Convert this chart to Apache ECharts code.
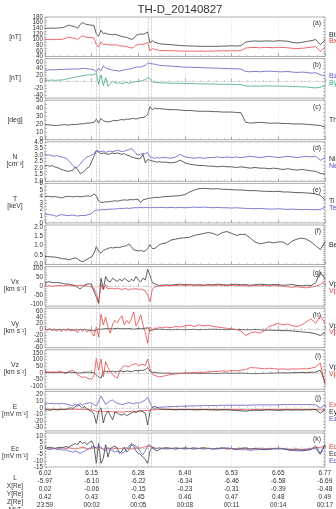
<!DOCTYPE html>
<html><head><meta charset="utf-8">
<script src="https://cdn.jsdelivr.net/npm/echarts@6/dist/echarts.min.js"></script>
<style>html,body{margin:0;padding:0;background:#fff}#c{width:336px;height:509px}</style>
</head><body><div id="c"></div>
<script>
// ---------- data ----------
const title = 'TH-D_20140827';
const xs = [0,0.05,0.1,0.15,0.2,0.25,0.3,0.35,0.4,0.45,0.5,0.55,0.6,0.65,0.7,0.75,0.8,0.85,0.9,0.95,1,1.05,1.1,1.15,1.2,1.25,1.3,1.35,1.4,1.45,1.5,1.55,1.6,1.65,1.7,1.75,1.8,1.85,1.9,1.95,2,2.05,2.1,2.15,2.2,2.25,2.3,2.35,2.4,2.45,2.5,
  2.6,2.7,2.8,2.9,3,3.1,3.2,3.3,3.4,3.5,3.6,3.7,3.8,3.9,4,4.1,4.2,4.3,4.4,4.5,4.6,4.7,4.8,4.9,5,5.1,5.2,5.3,5.4,5.5,5.6,5.7,5.8,5.9,6];
const eventTimes = [1.10, 1.17, 2.21, 2.27];

const Bt = [140,140,140,141,140,141,141,142,143,147,151,149,147,145,140,153,160,156,153,152,151,149,120,112,133,121,123,119,118,117,119,116,113,111,109,108,104,101,103,115,118,120,119,122,127,88,96,91,88,86,84,
  83,82,80,79,78,77,77,76,76,76,76,76,77,77,78,77,78,91,94,95,94,95,95,94,96,95,94,90,88,90,93,96,100,82,99];
const Bx = [100,100,100,100,100,101,100,101,102,105,109,107,105,104,100,108,113,110,108,107,107,105,82,73,92,82,84,82,81,80,82,80,78,77,76,75,72,70,72,80,82,84,83,86,90,60,68,65,63,62,61,
  61,60,60,59,59,59,59,59,59,59,59,60,60,60,60,60,61,70,72,72,71,72,72,71,73,72,71,69,68,69,71,73,75,58,73];
const Bz = [35,35,36,36,36,36,37,37,37,38,38,38,38,39,38,39,40,40,39,38,38,36,30,40,33,48,42,39,37,35,34,33,32,34,36,37,38,40,42,44,45,44,47,50,57,55,54,53,51,50,49,
  48,47,46,45,44,44,43,43,42,42,41,41,40,40,39,39,38,31,30,31,30,31,32,31,30,30,31,29,28,29,28,26,27,21,18];
const By = [5,4,4,5,4,4,5,5,6,8,9,11,13,14,15,16,18,19,20,21,20,22,26,-8,20,-12,12,-14,-6,1,-3,-5,-3,-6,-4,-2,-5,-3,-1,1,0,2,4,6,12,10,0,-2,-3,-3,-4,
  -4,-5,-5,-5,-6,-6,-6,-7,-7,-7,-7,-8,-8,-8,-8,-9,-9,-13,-14,-13,-14,-13,-13,-14,-13,-14,-14,-15,-15,-16,-16,-18,-19,-17,-12];
const Theta = [19,19,18.5,18.5,18,18,18.5,18.5,19,19,18.5,19,19.5,19,19.5,20,20,20.5,21,21,21.5,22,26,21,27,24,23,22.5,23,24,24.5,24,25,25.5,25,26,26,26.5,27,26,27,28,28,29,32,42,38,40,39,39.5,39,
  38.5,38,38,37.5,37,37,36.5,36,36,36,35.5,35.5,35,35,35,34.5,34,22,21,21.5,22,21.5,21,21,21,20.5,20.5,20,20,20,19.5,19,18.5,18,16];
const Ni = [2.15,2.2,2.15,2.2,2.1,2.05,2.0,1.9,1.85,1.8,1.75,1.8,1.85,2.1,1.9,1.6,1.65,1.8,2.0,2.1,2.5,2.9,3.3,3.2,3.1,3.15,3.1,3.05,3.1,3.15,3.1,3.15,3.1,3.05,3.1,3.0,2.95,2.85,2.8,2.75,2.7,2.75,3.05,2.4,2.65,2.6,2.55,2.5,2.45,2.5,2.45,
  2.45,2.4,2.45,2.6,2.4,2.3,2.25,2.2,2.2,2.15,2.15,2.1,2.15,2.1,2.1,2.05,2.1,2.05,2.0,2.05,2.0,2.0,1.95,2.0,1.95,1.9,1.95,1.9,1.85,1.9,1.85,1.8,1.75,1.6,1.55];
const Ne = [3.05,3.0,3.0,2.95,2.9,2.95,2.9,2.85,2.8,2.75,2.6,2.4,2.2,2.0,2.1,2.3,2.5,2.7,2.85,2.9,3.0,3.1,3.35,3.3,3.25,3.3,3.2,3.25,3.3,3.25,3.3,3.35,3.3,3.25,3.3,3.35,3.4,3.5,3.3,3.1,3.0,3.05,3.1,3.1,3.2,2.85,2.8,2.75,2.8,2.75,2.8,
  2.8,2.75,2.85,3.05,2.85,2.8,2.75,2.8,2.75,2.8,2.8,2.85,2.8,2.85,2.8,2.85,2.8,2.85,2.9,2.85,2.8,2.85,2.9,2.85,2.8,2.85,2.9,2.85,2.8,2.85,2.9,2.85,2.9,2.6,2.8];
const Ti = [4.0,4.05,4.0,3.95,4.0,3.95,3.9,3.8,3.9,4.0,4.05,4.0,3.95,4.0,4.05,3.95,4.0,4.05,4.1,4.05,4.1,4.4,4.1,3.3,3.1,3.15,3.2,3.2,3.25,3.3,3.35,3.3,3.4,3.45,3.5,3.45,3.5,3.55,3.5,3.6,3.55,3.1,3.5,3.6,3.7,3.75,3.8,3.85,3.9,3.85,3.95,
  4.0,4.05,4.1,4.15,4.3,4.7,5.0,5.2,5.25,5.2,5.15,5.2,5.1,5.1,5.05,5.0,5.0,4.95,4.9,4.9,4.85,4.8,4.8,4.75,4.8,4.7,4.7,4.65,4.6,4.6,4.55,4.5,4.4,4.2,3.5];
const Te = [1.3,1.3,1.25,1.2,1.1,1.0,1.15,1.25,1.2,1.15,1.1,1.15,1.2,1.1,1.05,1.1,1.15,1.1,1.2,1.3,1.4,1.8,2.0,1.9,2.0,2.05,2.0,2.05,2.1,2.1,2.1,2.15,2.2,2.2,2.2,2.25,2.2,2.25,2.3,2.3,2.3,2.35,2.3,2.35,2.35,2.3,2.35,2.35,2.3,2.35,2.35,
  2.3,2.35,2.3,2.35,2.3,2.35,2.4,2.35,2.4,2.35,2.3,2.35,2.3,2.3,2.25,2.3,2.25,2.2,2.2,2.15,2.2,2.15,2.1,2.1,2.15,2.1,2.05,2.1,2.05,2.0,2.05,2.0,2.0,2.05,2.4];
const Beta = [0.42,0.42,0.41,0.4,0.4,0.38,0.35,0.32,0.3,0.3,0.25,0.28,0.32,0.35,0.3,0.2,0.15,0.2,0.28,0.35,0.4,0.6,0.95,0.7,0.6,0.75,0.8,0.85,0.9,0.88,0.9,0.92,0.9,0.95,0.98,1.0,1.1,0.95,0.78,0.75,0.72,0.75,0.7,0.72,0.85,1.05,0.85,0.85,0.95,1.05,1.1,
  1.15,1.3,1.35,1.4,1.42,1.45,1.55,1.6,1.65,1.7,1.65,1.55,1.7,1.75,1.65,1.55,1.6,1.6,1.4,1.2,1.1,1.15,1.2,1.15,1.2,1.2,1.05,1.25,1.35,1.4,1.35,1.2,1.0,0.8,1.2];
const VxBlack = [22,24,25,22,20,22,20,18,15,12,14,10,8,2,-5,-15,-5,8,12,15,10,-30,-60,-95,45,-15,55,30,25,45,35,28,40,30,45,35,25,40,30,55,35,25,45,35,95,60,20,15,8,5,6,
  8,6,10,12,8,10,7,9,6,10,8,12,9,7,10,12,8,10,6,9,12,10,8,11,9,6,8,10,5,3,6,4,20,80,40];
const VxRed = [0,2,3,0,2,4,3,5,2,6,8,5,3,2,4,6,5,3,2,0,-5,-12,-40,-90,10,-20,8,-15,-10,-12,-15,-10,-14,-18,-12,-15,-20,-14,-16,-12,-18,-15,-20,-25,-50,-85,-15,-5,0,2,3,
  4,6,5,7,6,8,5,7,6,8,5,7,6,5,7,4,6,3,2,4,3,5,2,4,3,1,-3,-5,-2,-6,-8,-4,0,10,30];
const VyBlack = [0,-1,0,-1,-2,-1,0,-1,0,-2,-1,0,-1,-2,-1,0,-1,0,-1,-2,-3,-5,-2,2,0,2,3,2,3,2,3,4,3,2,3,2,3,2,1,2,3,2,3,4,6,-4,-2,0,0,1,0,
  0,-1,0,0,-1,0,0,-1,0,0,1,0,0,-1,0,0,0,-1,-1,0,-1,-2,-2,-3,-3,-4,-4,-5,-6,-8,-9,-11,-14,-20,-10];
const VyRed = [3,-2,4,-3,2,-5,0,-8,2,-3,3,-6,0,-4,-10,2,-5,0,-8,-3,-10,-22,8,-25,50,15,40,8,-12,18,30,22,35,45,15,30,20,35,58,12,25,48,15,-10,-45,8,0,5,3,8,5,
  8,6,10,8,12,14,10,15,12,14,10,8,6,4,2,0,-5,-20,-12,-8,-12,-5,10,15,20,15,18,12,10,15,25,35,20,45,20];
const VzBlack = [5,6,4,5,3,4,5,6,3,2,4,5,3,2,0,-2,2,4,6,5,3,0,-15,-30,-40,10,12,8,10,12,8,10,14,12,10,15,12,10,14,18,15,20,18,25,40,10,5,2,0,-2,-3,
  -2,-3,-4,-3,-2,-4,-3,-5,-4,-3,-5,-4,-3,-2,-4,-3,-2,-4,-5,-6,-5,-4,-3,-2,-1,0,-1,1,2,3,2,4,5,20,-70];
const VzRed = [0,3,5,2,6,4,8,5,2,-5,8,15,20,5,-15,-25,-35,-30,-40,-45,-50,-20,110,20,105,-30,85,40,10,-15,-30,-40,10,40,55,50,45,60,65,70,55,60,65,55,105,30,-10,-20,-25,-30,-28,
  -20,-12,-8,-5,-3,0,2,5,3,8,10,12,15,12,18,15,20,25,40,38,35,30,35,32,28,30,26,30,28,32,30,35,45,75,-90];
const Ex = [-2,-2,-2.5,-2,-2,-2.5,-2,-2,-2.5,-2,-2,-2.5,-2,-2,-2.5,-2,-2.5,-2,-2,-2.5,-3,-4,-5,-6,-5,-6,-5,-6,-5.5,-6,-6.5,-6,-6,-6.5,-6,-5.5,-6,-5.5,-5,-5.5,-5,-5,-4.5,-4,-4,-3.5,-3,-3,-2.5,-2.5,-2.5,
  -2.5,-2.4,-2.6,-2.5,-2.4,-2.5,-2.6,-2.5,-2.4,-2.5,-2.6,-2.5,-2.5,-2.4,-2.6,-2.5,-2.5,-3,-3,-2.6,-2.5,-2.4,-2.5,-2.6,-2.5,-2.5,-2.4,-2.6,-2.5,-2.5,-2.6,-2.4,-2.5,-3,-2.5];
const Ey = [-3,-3,-3.5,-3,-2.5,-3,-3,-2,-2.5,-2,-1,0,-1,2,5,3,0,2,-2,-4,-5,-10,-24,-5,0,-23,-10,-5,-12,-18,-6,-8,-10,-11,-9,-12,-10,-8,-6,-7,-5,-4,-6,-8,-26,-6,1,2,1,-1,-2,
  -2,-2.5,-3,-2.5,-3,-2.5,-3,-3,-2.5,-3,-3,-3.5,-3,-3,-3.5,-4,-4.5,-5,-4,-3.5,-4,-3.5,-3,-3.5,-4,-3.5,-3,-3.5,-3,-3.5,-3,-3,-2.5,-8,-3];
const Ez = [7,7,6.5,7,6,6.5,6,7,6.5,6,5,4,3,6,2,7,4,6,7,8,7,5,3,10,18,12,5,8,11,12,9,7,6,5,6,7,8,7,6,8,7,8,10,12,16,8,0,-2,0,1,1,
  1.5,2,2,2.5,2.5,3,3,3,3.5,3.5,3.5,3.5,4,4,4,4,4,4,4,4.5,4.5,4.5,4.5,4.5,4.5,5,5,5,5,5,5,5,4.5,0,4];
const EcRed = [0,0.5,0,0.3,0,-0.3,0,0.5,0.3,0,0.5,0.3,0,-0.5,0,0.5,1,0.5,0,-0.5,0,0.5,1,-1,0.5,-0.5,0,0.5,0,-0.5,0,0.3,0,-0.3,0,0.5,0,-0.5,0,0.5,0,0.5,1,1.5,2,1.5,1,0.5,0,0.3,0,
  0.3,0,0.2,0,-0.2,0,0.2,0,0.3,0,-0.2,0,0.2,0,-0.3,0,0.2,0,-0.3,0,0.2,0,-0.2,0,0.3,0,-0.5,-0.8,-0.5,-1,-0.5,0,0.5,1,1.5];
const EcBlack = [0,0.5,1,0.5,0,0.5,1,0.5,1,1.5,1,2,3,4,3,6,4,5,3,5,6,2,-12,4,-12,-8,3,-7,0,1,2,0,-4,-2,1,-3,-1,3,2,-2,-4,-5,-7,-9,-12,-2,1,-1,-2,-1,0,
  0.5,0,-0.5,0,0.5,0,-0.5,0,0.5,0,-0.5,0,0.5,-0.5,0,-1,0,0.5,-0.5,0,-0.5,-1,-0.5,0,-0.5,0,-1,-1.5,-1,-2,-1.5,-1,2,-4,3];
const EcBlue = [0,-0.5,-1,-0.5,0,-1,-0.5,-1,-1.5,-1,-2,-2.5,-3,-2,-3,-4,-3,-2,-1,0,1,2,0,2,1,-1,-2,0,-1,-2,-3,-2,-3,-4,-3,-1,2,4,3,2,0,-3,-5,-2,2,3,0,-0.5,0,0.5,0,
  -0.5,0,0.5,0,-0.5,0,0.5,0,-0.5,0,0,-0.5,0,0.5,0,-0.5,-1,-1,-1.5,-1,-1,-0.5,-1,-0.5,0,-0.5,-1,-1.5,-2,-1.5,-1,-0.5,0,-5,2];

const rowNames = ['L','X[Re]','Y[Re]','Z[Re]','MLT'];
const Lvals = ['6.02','6.15','6.28','6.40','6.53','6.65','6.77'];
const Xvals = ['-5.97','-6.10','-6.22','-6.34','-6.46','-6.58','-6.69'];
const Yvals = ['0.02','-0.06','-0.15','-0.23','-0.31','-0.39','-0.48'];
const Zvals = ['0.42','0.43','0.45','0.46','0.47','0.48','0.49'];
const MLTvals = ['23:59','00:02','00:05','00:08','00:11','00:14','00:17'];

// ---------- styles ----------
const K = '#2b2b2b', R = '#e5383b', B = '#5252c6', G = '#2fa57e';
const FONT = 'Liberation Sans, Arial, sans-serif';

const panels = [
  {tag:'(a)', min:40, max:180, int:10, step:20, dec:0, lines:[[Bt,K],[Bx,R]], left:['[nT]'], right:[['Bt',K],['Bx',R]], zero:false},
  {tag:'(b)', min:-50, max:70, int:10, step:20, dec:0, lines:[[Bz,B],[By,G]], left:['[nT]'], right:[['Bz',B],['By',G]], zero:true},
  {tag:'(c)', min:0, max:50, int:5, step:10, dec:0, lines:[[Theta,K]], left:['[deg]'], right:[['Th',K]], zero:false},
  {tag:'(d)', min:1, max:4, int:0.25, step:0.5, dec:1, lines:[[Ni,K],[Ne,B]], left:['N','[cm\u207B\u00B3]'], right:[['Ni',K],['Ne',B]], zero:false},
  {tag:'(e)', min:0, max:6, int:0.5, step:1, dec:0, lines:[[Ti,K],[Te,B]], left:['T','[keV]'], right:[['Ti',K],['Te',B]], zero:false},
  {tag:'(f)', min:0, max:2.1, int:0.1, step:0.5, dec:1, lines:[[Beta,K]], left:[], right:[['Be',K]], zero:false},
  {tag:'(g)', min:-110, max:110, int:10, step:50, dec:0, lines:[[VxBlack,K],[VxRed,R]], left:['Vx','[km s\u207B\u00B9]'], right:[['Vpx',K],['Vpx',R]], zero:true},
  {tag:'(h)', min:-60, max:70, int:10, step:20, dec:0, lines:[[VyBlack,K],[VyRed,R]], left:['Vy','[km s\u207B\u00B9]'], right:[['Vpy',K],['Vpy',R]], zero:true},
  {tag:'(i)', min:-125, max:175, int:25, step:50, dec:0, lines:[[VzBlack,K],[VzRed,R]], left:['Vz','[km s\u207B\u00B9]'], right:[['Vpz',K],['Vpz',R]], zero:true},
  {tag:'(j)', min:-35, max:25, int:5, step:10, dec:0, lines:[[Ex,R],[Ey,K],[Ez,B]], left:['E','[mV m\u207B\u00B9]'], right:[['Ex',R],['Ey',K],['Ez',B]], zero:true},
  {tag:'(k)', min:-15, max:12.5, int:2.5, step:5, dec:0, lines:[[EcRed,R],[EcBlack,K],[EcBlue,B]], left:['Ec','[mV m\u207B\u00B9]'], right:[['Ecx',R],['Ecy',K],['Ecz',B]], zero:true}
];

const TOP0 = 17, PITCH = 41.6, H = 39.5, LEFT = 45, RIGHT = 11;
const grids = [], xAxes = [], yAxes = [], series = [], graphics = [];
const n = panels.length;

panels.forEach((p, i) => {
  const top = TOP0 + PITCH * i;
  const mid = top + H / 2;
  grids.push({left: LEFT, right: RIGHT, top: top, height: H, show: true, borderColor: '#8c8c8c', borderWidth: 0.7, backgroundColor: 'transparent'});
  const last = i === n - 1;
  xAxes.push({
    gridIndex: i, type: 'value', min: 0, max: 6, interval: 1,
    axisLine: {show: false},
    axisTick: {show: true, inside: true, length: 3, lineStyle: {color: '#777', width: 0.6}},
    minorTick: {show: true, splitNumber: 6, length: 1.5, lineStyle: {color: '#999', width: 0.5}},
    splitLine: {show: true, lineStyle: {color: '#d8d8d8', type: 'dotted', width: 0.6}},
    axisLabel: last ? {
      show: true, margin: 2, fontSize: 6.5, lineHeight: 8, color: '#333', fontFamily: FONT,
      showMinLabel: true, showMaxLabel: true,
      formatter: v => { const k = Math.round(v); return [Lvals[k], Xvals[k], Yvals[k], Zvals[k], MLTvals[k]].join('\n'); }
    } : {show: false}
  });
  const fmt = v => { const r = v / p.step; return Math.abs(r - Math.round(r)) < 1e-6 ? v.toFixed(p.dec) : ''; };
  yAxes.push({
    gridIndex: i, type: 'value', min: p.min, max: p.max, interval: p.int,
    axisLine: {show: false}, splitLine: {show: false},
    axisTick: {show: true, inside: true, length: 2, lineStyle: {color: '#888', width: 0.5}},
    axisLabel: {show: true, margin: 2, fontSize: 6.3, color: '#333', fontFamily: FONT, formatter: fmt}
  });
  yAxes.push({
    gridIndex: i, type: 'value', position: 'right', min: p.min, max: p.max, interval: p.int,
    axisLine: {show: false}, splitLine: {show: false},
    axisTick: {show: true, inside: true, length: 2, lineStyle: {color: '#888', width: 0.5}},
    axisLabel: {show: false}
  });
  p.lines.forEach((ln, j) => {
    const s = {
      type: 'line', xAxisIndex: i, yAxisIndex: 2 * i, showSymbol: false, symbol: 'none',
      data: xs.map((x, k) => [x, ln[0][k]]),
      lineStyle: {color: ln[1], width: 0.75}, itemStyle: {color: ln[1]}, silent: true, z: 3
    };
    if (j === 0) {
      const md = eventTimes.map(t => ({xAxis: t}));
      if (p.zero) md.push({yAxis: 0});
      s.markLine = {silent: true, symbol: 'none', label: {show: false}, animation: false,
        lineStyle: {color: '#a8a8a8', type: 'dotted', width: 0.7}, data: md};
    }
    series.push(s);
  });
  // left labels
  const lpos = p.left.length === 2 ? [mid - 4, mid + 3] : [mid];
  p.left.forEach((t, j) => graphics.push({type: 'text', left: null, x: 15, y: lpos[j],
    style: {text: t, x: 0, y: 0, fill: '#333', font: '6.8px ' + FONT, textAlign: 'center', textVerticalAlign: 'middle', align: 'center', verticalAlign: 'middle'}}));
  // right labels
  const m = p.right.length;
  const rpos = m === 1 ? [mid] : (m === 2 ? [mid - 2, mid + 4.5] : [mid - 6, mid + 1, mid + 8]);
  p.right.forEach((r, j) => graphics.push({type: 'text', x: 329, y: rpos[j],
    style: {text: r[0], x: 0, y: 0, fill: r[1], font: '7px ' + FONT, textAlign: 'left', textVerticalAlign: 'middle', align: 'left', verticalAlign: 'middle'}}));
  // panel tag
  graphics.push({type: 'text', x: 321, y: top + 6.5,
    style: {text: p.tag, x: 0, y: 0, fill: '#333', font: '6.8px ' + FONT, textAlign: 'right', textVerticalAlign: 'middle', align: 'right', verticalAlign: 'middle'}});
});

// row names of the bottom table
const tableTop = TOP0 + PITCH * (n - 1) + H + 2;
rowNames.forEach((t, j) => graphics.push({type: 'text', x: 15, y: tableTop + 4 + 8 * j,
  style: {text: t, x: 0, y: 0, fill: '#333', font: '6.5px ' + FONT, textAlign: 'center', textVerticalAlign: 'middle', align: 'center', verticalAlign: 'middle'}}));

// title
graphics.push({type: 'text', x: 180, y: 10,
  style: {text: title, x: 0, y: 0, fill: '#333', font: '11.5px ' + FONT, textAlign: 'center', textVerticalAlign: 'middle', align: 'center', verticalAlign: 'middle'}});

const chart = echarts.init(document.getElementById('c'), null, {renderer: 'canvas', width: 336, height: 509});
chart.setOption({
  animation: false, backgroundColor: '#fff',
  grid: grids, xAxis: xAxes, yAxis: yAxes, series: series, graphic: graphics
});
</script></body></html>
